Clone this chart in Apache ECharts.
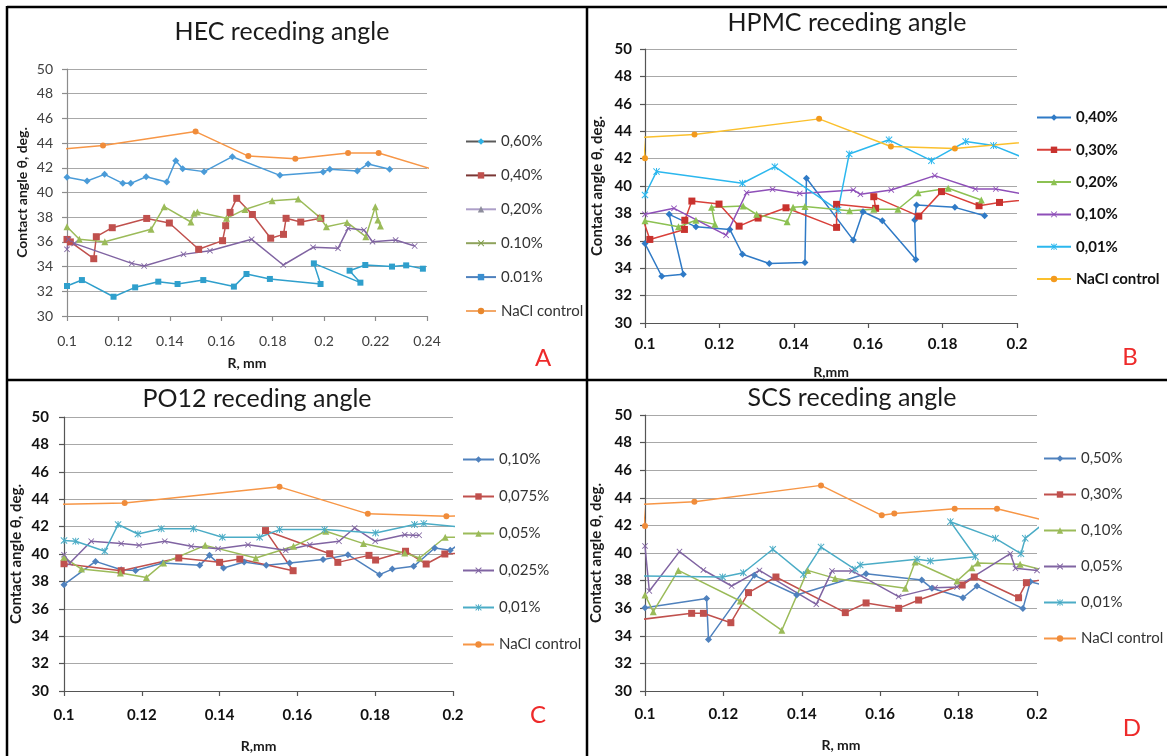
<!DOCTYPE html>
<html>
<head>
<meta charset="utf-8">
<title>Receding angle</title>
<script src="https://cdn.jsdelivr.net/npm/echarts@6/dist/echarts.min.js"></script>
<style>
  html, body { margin: 0; padding: 0; background: #fff; }
  #main { width: 1167px; height: 756px; }
</style>
</head>
<body>
<div id="main"></div>
<script>
  // ---- A: HEC receding angle  [R mm, angle deg]
  var hec060 = [[0.1,41.23],[0.1078,40.93],[0.1146,41.47],[0.1217,40.74],[0.1248,40.74],[0.1308,41.28],[0.1388,40.85],[0.1423,42.58],[0.145,41.93],[0.1533,41.69],[0.1643,42.9],[0.1828,41.39],[0.1996,41.66],[0.2022,41.88],[0.2129,41.74],[0.2171,42.31],[0.2255,41.88]];
  var hec040 = [[0.1,36.2],[0.1013,36.0],[0.1104,34.64],[0.1114,36.42],[0.1176,37.15],[0.131,37.9],[0.1398,37.53],[0.1512,35.4],[0.1605,36.1],[0.1617,37.31],[0.1634,38.39],[0.166,39.53],[0.1721,38.22],[0.1792,36.3],[0.1842,36.61],[0.1852,37.91],[0.1909,37.61],[0.1987,37.91]];
  var hec020 = [[0.1,37.23],[0.1048,36.21],[0.1147,36.02],[0.1327,37.02],[0.1378,38.85],[0.1482,37.61],[0.1494,38.31],[0.1507,38.42],[0.162,37.91],[0.1692,38.63],[0.1798,39.34],[0.1899,39.47],[0.1983,37.99],[0.2009,37.23],[0.2089,37.58],[0.2162,36.42],[0.2199,38.85],[0.2209,37.77],[0.2219,37.29]];
  var hec010 = [[0.1,35.4],[0.1006,36.21],[0.1028,35.88],[0.1252,34.26],[0.13,34.05],[0.1453,34.99],[0.1556,35.29],[0.1718,36.21],[0.1841,34.13],[0.1957,35.56],[0.2054,35.48],[0.2093,37.1],[0.2155,36.96],[0.2188,36.02],[0.2278,36.15],[0.2352,35.67]];
  var hec001 = [[0.1,32.43],[0.1058,32.91],[0.1181,31.56],[0.1265,32.32],[0.1355,32.78],[0.143,32.59],[0.153,32.91],[0.1649,32.38],[0.1698,33.4],[0.1789,33.0],[0.1986,32.59],[0.196,34.26],[0.2141,32.7],[0.2099,33.67],[0.216,34.13],[0.2264,34.0],[0.2319,34.1],[0.2384,33.83]];
  var hecNacl = [[0.095,43.46],[0.114,43.8],[0.15,44.93],[0.1705,42.95],[0.1888,42.74],[0.2093,43.2],[0.2212,43.2],[0.245,41.7]];

  // ---- B: HPMC receding angle
  var hpmc040 = [[0.1,35.8],[0.1045,33.41],[0.1103,33.56],[0.1065,37.93],[0.1137,37.02],[0.1228,36.83],[0.1262,35.02],[0.1334,34.34],[0.143,34.41],[0.1434,40.56],[0.156,36.05],[0.1586,38.12],[0.1638,37.46],[0.1728,34.63],[0.1725,37.51],[0.173,38.61],[0.1833,38.44],[0.1913,37.83]];
  var hpmc030 = [[0.0998,37.3],[0.1013,36.1],[0.1106,36.83],[0.1107,37.5],[0.1126,38.9],[0.1199,38.68],[0.1253,37.07],[0.1304,37.66],[0.1379,38.41],[0.1515,36.98],[0.1515,38.66],[0.162,38.37],[0.1615,39.22],[0.1736,37.8],[0.1797,39.59],[0.1898,38.56],[0.1953,38.8],[0.206,39.1]];
  var hpmc020 = [[0.1,37.46],[0.109,37.02],[0.1137,37.5],[0.1188,37.2],[0.1179,38.44],[0.1264,38.54],[0.13,37.93],[0.1382,37.39],[0.1398,38.44],[0.143,38.5],[0.155,38.2],[0.1615,38.3],[0.168,38.3],[0.1734,39.51],[0.1815,39.83],[0.1904,38.98]];
  var hpmc010 = [[0.1,37.93],[0.1078,38.37],[0.1218,36.41],[0.1273,39.51],[0.1343,39.76],[0.1416,39.46],[0.156,39.71],[0.1579,39.39],[0.1662,39.71],[0.1779,40.76],[0.1888,39.78],[0.1943,39.78],[0.206,39.2]];
  var hpmc001 = [[0.1,39.34],[0.1031,41.05],[0.1262,40.2],[0.1349,41.41],[0.1519,38.24],[0.1549,42.34],[0.1656,43.37],[0.177,41.85],[0.1862,43.24],[0.1937,42.95],[0.206,41.6]];
  var hpmcNacl = [[0.1,42.02],[0.0995,43.55],[0.1133,43.76],[0.1468,44.9],[0.1661,42.88],[0.1833,42.73],[0.21,43.4]];

  // ---- C: PO12 receding angle
  var po010 = [[0.1,37.76],[0.1081,39.46],[0.1147,38.85],[0.1184,38.8],[0.1254,39.34],[0.1349,39.17],[0.1374,39.9],[0.141,38.98],[0.1463,39.41],[0.152,39.17],[0.158,39.34],[0.1666,39.59],[0.173,39.95],[0.1811,38.49],[0.1844,38.9],[0.1899,39.1],[0.1953,40.44],[0.1993,40.27],[0.203,41.0]];
  var po0075 = [[0.1,39.29],[0.1147,38.78],[0.1295,39.71],[0.14,39.39],[0.1452,39.63],[0.1589,38.78],[0.1518,41.71],[0.1683,40.02],[0.1704,39.39],[0.1784,39.9],[0.1801,39.56],[0.1878,40.2],[0.1931,39.27],[0.1979,40.0],[0.204,40.1]];
  var po005 = [[0.1,39.76],[0.1045,38.9],[0.1145,38.61],[0.1212,38.29],[0.1256,39.34],[0.1363,40.63],[0.1493,39.71],[0.159,40.56],[0.1673,41.66],[0.177,40.76],[0.1876,40.07],[0.1914,39.71],[0.198,41.22],[0.205,41.22]];
  var po0025 = [[0.1,39.95],[0.1015,39.34],[0.107,40.93],[0.1147,40.76],[0.1193,40.63],[0.1259,40.93],[0.1327,40.56],[0.1396,40.39],[0.1473,40.68],[0.157,40.27],[0.1632,40.68],[0.1707,40.93],[0.1747,41.9],[0.18,40.93],[0.1876,41.41],[0.1897,41.37],[0.1913,41.37]];
  var po001 = [[0.1,40.98],[0.103,40.93],[0.1105,40.2],[0.1139,42.15],[0.119,41.46],[0.125,41.85],[0.1333,41.85],[0.1407,41.22],[0.1503,41.22],[0.1554,41.78],[0.167,41.78],[0.1801,41.54],[0.1901,42.15],[0.1925,42.22],[0.205,41.9]];
  var poNacl = [[0.095,43.6],[0.1156,43.73],[0.1554,44.9],[0.1781,42.93],[0.1983,42.76],[0.205,42.8]];

  // ---- D: SCS receding angle
  var scs050 = [[0.1,36.04],[0.1157,36.71],[0.1162,33.74],[0.1279,38.38],[0.1387,36.96],[0.1564,38.5],[0.1706,38.04],[0.1732,37.44],[0.1811,36.76],[0.1847,37.6],[0.1964,35.97],[0.1983,37.92],[0.204,37.5]];
  var scs030 = [[0.0995,35.2],[0.1119,35.63],[0.1149,35.63],[0.1219,34.95],[0.1264,37.13],[0.1334,38.26],[0.1511,35.68],[0.1564,36.38],[0.1647,35.99],[0.1698,36.59],[0.1809,37.68],[0.184,38.26],[0.1953,36.76],[0.1973,37.85],[0.204,38.2]];
  var scs010 = [[0.1,36.96],[0.1021,35.75],[0.1085,38.74],[0.1243,36.52],[0.1349,34.4],[0.1415,38.74],[0.1485,38.16],[0.1664,37.44],[0.1689,39.35],[0.1796,37.97],[0.1834,38.94],[0.1849,39.28],[0.1957,39.18],[0.204,38.6]];
  var scs005 = [[0.1,40.51],[0.1011,37.25],[0.1088,40.1],[0.1149,38.77],[0.1221,37.61],[0.1292,38.74],[0.1437,36.28],[0.1477,38.7],[0.1528,38.7],[0.1647,36.84],[0.174,37.49],[0.1796,37.54],[0.1932,39.95],[0.1945,38.89],[0.2,38.74]];
  var scs001 = [[0.0995,38.33],[0.1198,38.26],[0.1251,38.57],[0.1326,40.27],[0.1404,38.45],[0.1449,40.43],[0.1536,38.82],[0.1549,39.13],[0.1694,39.54],[0.1728,39.42],[0.1843,39.73],[0.1779,42.27],[0.1894,41.06],[0.1959,39.95],[0.197,41.06],[0.202,42.2]];
  var scsNacl = [[0.1,41.96],[0.0995,43.53],[0.1126,43.72],[0.1449,44.9],[0.1604,42.73],[0.1636,42.87],[0.179,43.21],[0.1898,43.21],[0.21,41.8]];

  var labelsA = ['0,60%', '0,40%', '0,20%', '0.10%', '0.01%', 'NaCl control'];
  var labelsB = ['0,40%', '0,30%', '0,20%', '0,10%', '0,01%', 'NaCl control'];
  var labelsC = ['0,10%', '0,075%', '0,05%', '0,025%', '0,01%', 'NaCl control'];
  var labelsD = ['0,50%', '0,30%', '0,10%', '0,05%', '0,01%', 'NaCl control'];

  var FONT = 'Lato, "Open Sans", "Noto Sans", sans-serif';
  var X_MARK = 'path://M0,1L1,0L5,4L9,0L10,1L6,5L10,9L9,10L5,6L1,10L0,9L4,5Z';
  var STAR = 'path://M0,1L1,0L4.3,3.3L4.3,0L5.7,0L5.7,3.3L9,0L10,1L6,5L10,9L9,10L5.7,6.7L5.7,10L4.3,10L4.3,6.7L1,10L0,9L4,5Z';

  function mk(panel, idx, label, data, color, symbol, size, lineColor) {
    return {
      name: panel + '|' + label,
      type: 'line',
      xAxisIndex: idx,
      yAxisIndex: idx,
      data: data,
      symbol: symbol,
      symbolSize: size,
      clip: true,
      itemStyle: { color: color },
      lineStyle: { color: lineColor || color, width: 1.5 },
      emphasis: { disabled: true }
    };
  }

  function xAx(idx, max, bold, margin, nameGap, name, axisColor) {
    return {
      gridIndex: idx, type: 'value', min: 0.1, max: max, interval: 0.02,
      name: name, nameLocation: 'middle', nameGap: nameGap,
      nameTextStyle: { fontFamily: FONT, fontSize: 14, fontWeight: 'bold', color: '#1a1a1a' },
      axisLine: { show: true, onZero: false, lineStyle: { color: axisColor, width: 1.2 } },
      axisTick: { show: true, length: 5, lineStyle: { color: axisColor, width: 1.2 } },
      splitLine: { show: false },
      axisLabel: {
        margin: margin, fontFamily: FONT, fontSize: bold ? 15 : 14,
        fontWeight: bold ? 'bold' : 'normal', color: bold ? '#111' : '#404040',
        formatter: function (v) { return String(Math.round(v * 100) / 100); }
      }
    };
  }

  function yAx(idx, bold, margin, nameGap, axisColor) {
    return {
      gridIndex: idx, type: 'value', min: 30, max: 50, interval: 2,
      name: 'Contact angle θ, deg.', nameLocation: 'middle', nameGap: nameGap,
      nameTextStyle: { fontFamily: FONT, fontSize: bold ? 15 : 14, fontWeight: 'bold', color: '#1a1a1a' },
      axisLine: { show: true, lineStyle: { color: axisColor, width: 1.2 } },
      axisTick: { show: true, length: 5, lineStyle: { color: axisColor, width: 1.2 } },
      splitLine: { show: true, lineStyle: { color: '#a8a8a8', width: 1.2 } },
      axisLabel: {
        margin: margin, fontFamily: FONT, fontSize: bold ? 15 : 14,
        fontWeight: bold ? 'bold' : 'normal', color: bold ? '#111' : '#404040'
      }
    };
  }

  function lg(panel, labels, left, top, width, gap, bold, overrides) {
    return {
      orient: 'vertical', left: left, top: top, padding: 0,
      itemWidth: width, itemHeight: 8, itemGap: gap,
      selectedMode: false,
      data: labels.map(function (l, i) {
        var d = { name: panel + '|' + l };
        if (overrides) {
          d.itemStyle = { color: overrides[i][1] };
          d.lineStyle = { color: overrides[i][0] };
        }
        return d;
      }),
      formatter: function (n) { return n.split('|')[1]; },
      textStyle: { fontFamily: FONT, fontSize: 15, fontWeight: bold ? 'bold' : 'normal', color: bold ? '#111' : '#333' }
    };
  }

  // legend colours in panel A differ from its plot colours in the source picture
  var legendA = [['#5a5a5a', '#2fb2e6'], ['#7a3634', '#c0504d'], ['#ad9fc8', '#8d8d9c'], ['#8fa35c', '#7c9a45'], ['#4f81bd', '#3a8fd0'], ['#f3a868', '#e8872c']];

  function title(text, x, y) {
    return { type: 'text', x: x, y: y, silent: true,
      style: { text: text, fontFamily: FONT, fontSize: 25, fill: '#1a1a1a', align: 'center', verticalAlign: 'middle' } };
  }
  function letter(text, x, y) {
    return { type: 'text', x: x, y: y, silent: true,
      style: { text: text, fontFamily: FONT, fontSize: 24, fill: '#ee2a2a', align: 'center', verticalAlign: 'middle' } };
  }
  function rule(x1, y1, x2, y2) {
    return { type: 'line', silent: true, shape: { x1: x1, y1: y1, x2: x2, y2: y2 }, style: { stroke: '#000', lineWidth: 2.5 } };
  }

  var chart = echarts.init(document.getElementById('main'));

  var option = {
    animation: false,
    backgroundColor: '#fff',
    grid: [
      { left: 67, top: 69, width: 360, height: 247 },
      { left: 645, top: 49, width: 372, height: 274 },
      { left: 64, top: 417, width: 389, height: 274 },
      { left: 645, top: 415, width: 392, height: 276 }
    ],
    xAxis: [
      xAx(0, 0.24, false, 18, 40, 'R, mm', '#8c8c8c'),
      xAx(1, 0.2, true, 14, 42, 'R,mm', '#555'),
      xAx(2, 0.2, true, 17, 48, 'R,mm', '#555'),
      xAx(3, 0.2, true, 16, 47, 'R, mm', '#555')
    ],
    yAxis: [
      yAx(0, false, 14, 38, '#8c8c8c'),
      yAx(1, true, 13, 40, '#555'),
      yAx(2, true, 15, 40, '#555'),
      yAx(3, true, 13, 41, '#555')
    ],
    legend: [
      lg('A', labelsA, 465, 134, 30, 18.9, false, legendA),
      lg('B', labelsB, 1036, 110, 34, 17.3, true),
      lg('C', labelsC, 462, 452, 31, 22, false),
      lg('D', labelsD, 1043, 451, 32, 21, false)
    ],
    graphic: [
      rule(7, 7, 1167, 7),
      rule(7, 6, 7, 756),
      rule(587, 6, 587, 756),
      rule(7, 380, 1167, 380),
      title('HEC receding angle', 282, 32),
      title('HPMC receding angle', 847, 23),
      title('PO12 receding angle', 257, 399),
      title('SCS receding angle', 852, 398),
      letter('A', 543, 358),
      letter('B', 1130, 357),
      letter('C', 538, 715),
      letter('D', 1132, 728)
    ],
    series: [
      mk('A', 0, labelsA[0], hec060, '#4a9bd8', 'diamond', 7),
      mk('A', 0, labelsA[1], hec040, '#c0504d', 'rect', 7),
      mk('A', 0, labelsA[2], hec020, '#9bbb59', 'triangle', 7),
      mk('A', 0, labelsA[3], hec010, '#8064a2', X_MARK, 6),
      mk('A', 0, labelsA[4], hec001, '#2f9fcc', 'rect', 6),
      mk('A', 0, labelsA[5], hecNacl, '#f08c3a', 'circle', 6, '#f79646'),

      mk('B', 1, labelsB[0], hpmc040, '#2f7ac6', 'diamond', 7),
      mk('B', 1, labelsB[1], hpmc030, '#c8322e', 'rect', 7, '#d9403a'),
      mk('B', 1, labelsB[2], hpmc020, '#8cc152', 'triangle', 7),
      mk('B', 1, labelsB[3], hpmc010, '#8e4fb8', X_MARK, 6),
      mk('B', 1, labelsB[4], hpmc001, '#2bb7ee', STAR, 7),
      mk('B', 1, labelsB[5], hpmcNacl, '#f39a1e', 'circle', 6, '#fbc02d'),

      mk('C', 2, labelsC[0], po010, '#4f81bd', 'diamond', 7),
      mk('C', 2, labelsC[1], po0075, '#c0504d', 'rect', 7),
      mk('C', 2, labelsC[2], po005, '#9bbb59', 'triangle', 7),
      mk('C', 2, labelsC[3], po0025, '#8064a2', X_MARK, 6),
      mk('C', 2, labelsC[4], po001, '#4bacc6', STAR, 7),
      mk('C', 2, labelsC[5], poNacl, '#f08c3a', 'circle', 6, '#f79646'),

      mk('D', 3, labelsD[0], scs050, '#4f81bd', 'diamond', 7),
      mk('D', 3, labelsD[1], scs030, '#c0504d', 'rect', 7),
      mk('D', 3, labelsD[2], scs010, '#9bbb59', 'triangle', 7),
      mk('D', 3, labelsD[3], scs005, '#8064a2', X_MARK, 6),
      mk('D', 3, labelsD[4], scs001, '#4bacc6', STAR, 7),
      mk('D', 3, labelsD[5], scsNacl, '#f08c3a', 'circle', 6, '#f79646')
    ]
  };

  chart.setOption(option);
</script>
</body>
</html>
